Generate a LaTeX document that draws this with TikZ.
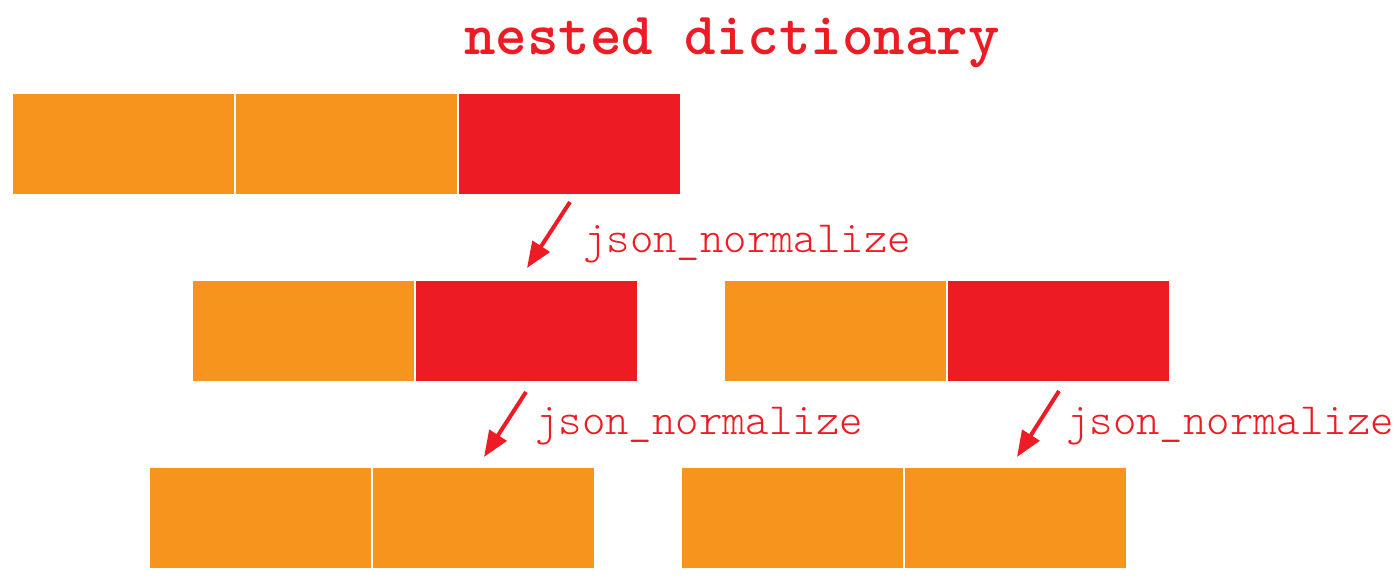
\documentclass[tikz,border=0pt]{standalone}
\usepackage{fontspec}
\newfontfamily\lightmono{Latin Modern Mono Light}
\usetikzlibrary{arrows.meta}
\definecolor{dictorange}{HTML}{F7941D}
\definecolor{dictred}{HTML}{ED1C24}
\begin{document}
\begin{tikzpicture}[x=1pt,y=-1pt]
	\tikzstyle{key}=[rectangle,fill=dictorange,minimum width=221pt,minimum height=100pt,inner sep=0pt]
	\tikzstyle{nested}=[rectangle,fill=dictred,minimum width=221pt,minimum height=100pt,inner sep=0pt]
	\tikzstyle{step label}=[anchor=base west,text=dictred,font=\lightmono\fontsize{44.6}{46}\selectfont,inner sep=0pt]
	\tikzstyle{flatten}=[draw=dictred,line width=4pt,-{Triangle[length=26pt,width=20pt]}]
	\useasboundingbox (0,0) rectangle (1400,584);

	\node[text=dictred, font=\ttfamily\bfseries\fontsize{60}{62}\selectfont, anchor=base] (title) at (732, 54) {nested dictionary};

	\node[key] (K1) at (123, 143.5) {};
	\node[key] (K2) at (346, 143.5) {};
	\node[nested] (N1) at (569, 143.5) {};

	\node[key] (K3) at (303, 331) {};
	\node[nested] (N2) at (526, 331) {};
	\node[key] (K4) at (835, 331) {};
	\node[nested] (N3) at (1058, 331) {};

	\node[key] (K5) at (260, 518) {};
	\node[key] (K6) at (483, 518) {};
	\node[key] (K7) at (792, 518) {};
	\node[key] (K8) at (1015, 518) {};

	\coordinate (A1) at (570, 202);
	\coordinate (B1) at (527, 268);
	\coordinate (A2) at (526, 392);
	\coordinate (B2) at (484, 457);
	\coordinate (A3) at (1059, 391);
	\coordinate (B3) at (1017, 457);

	\draw[flatten] (A1) -- (B1);
	\draw[flatten] (A2) -- (B2);
	\draw[flatten] (A3) -- (B3);

	\node[step label] (L1) at (583, 252) {json\_normalize};
	\node[step label] (L2) at (535, 434) {json\_normalize};
	\node[step label] (L3) at (1066, 434) {json\_normalize};
\end{tikzpicture}
\end{document}
